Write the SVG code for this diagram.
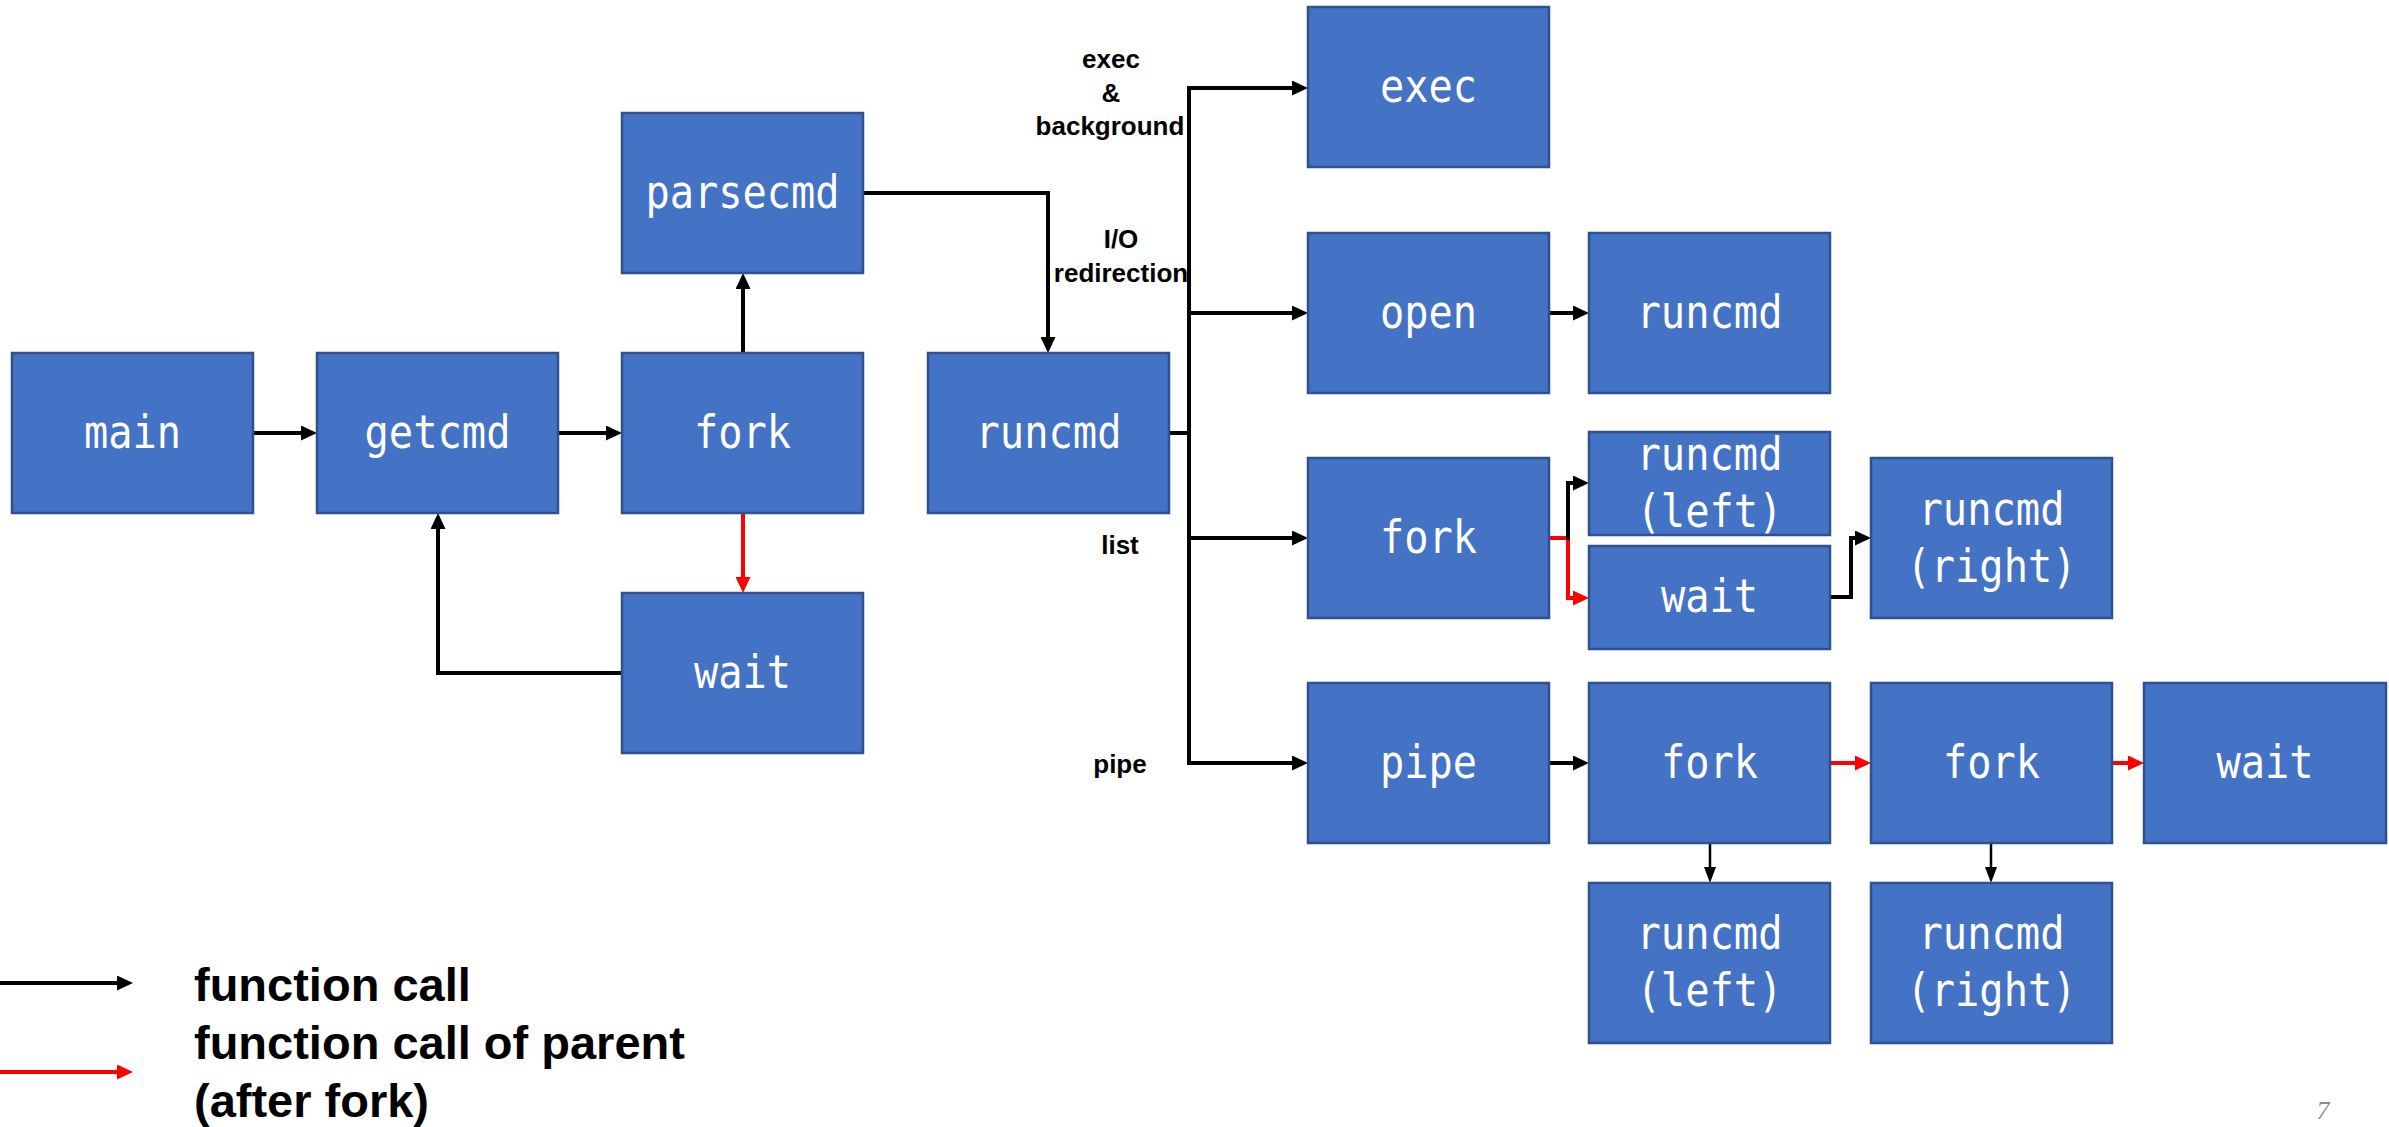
<svg xmlns="http://www.w3.org/2000/svg" width="2389" height="1127" viewBox="0 0 2389 1127">
  <style>
    .box { fill: #4472C4; stroke: #2F528F; stroke-width: 2.5; }
    .lbl { font-family: "DejaVu Sans Mono", monospace; font-size: 47px; fill: #ffffff; text-anchor: middle; }
    .edge { fill: none; stroke: #000000; stroke-width: 4; }
    .edge.thin { stroke-width: 2.5; }
    .edge.parent { stroke: #FF0000; }
    .tag { font-family: "Liberation Sans", Arial, sans-serif; font-weight: bold; font-size: 26px; fill: #000000; text-anchor: middle; }
    .legend { font-family: "Liberation Sans", Arial, sans-serif; font-weight: bold; font-size: 47px; fill: #000000; }
    .page { font-family: "Liberation Serif", serif; font-style: italic; font-size: 26px; fill: #8c8c8c; text-anchor: middle; }
  </style>
  <defs>
    <marker id="arrow" markerUnits="userSpaceOnUse" markerWidth="16" markerHeight="15" refX="10" refY="7.5" orient="auto">
      <path d="M0,0 L16,7.5 L0,15 z" fill="#000000"/>
    </marker>
    <marker id="arrow-red" markerUnits="userSpaceOnUse" markerWidth="16" markerHeight="15" refX="10" refY="7.5" orient="auto">
      <path d="M0,0 L16,7.5 L0,15 z" fill="#FF0000"/>
    </marker>
    <marker id="arrow-thin" markerUnits="userSpaceOnUse" markerWidth="16" markerHeight="12" refX="10" refY="6" orient="auto">
      <path d="M0,0 L16,6 L0,12 z" fill="#000000"/>
    </marker>
  </defs>

  <!-- connectors -->
  <g id="connectors">
    <path class="edge" d="M253,433 H311" marker-end="url(#arrow)"/>
    <path class="edge" d="M558,433 H616" marker-end="url(#arrow)"/>
    <path class="edge" d="M743,353 V279" marker-end="url(#arrow)"/>
    <path class="edge parent" d="M743,513 V587" marker-end="url(#arrow-red)"/>
    <path class="edge" d="M622,673 H438 V519" marker-end="url(#arrow)"/>
    <path class="edge" d="M863,193 H1048 V347" marker-end="url(#arrow)"/>
    <path class="edge" d="M1169,433 H1189"/>
    <path class="edge" d="M1189,88 V763"/>
    <path class="edge" d="M1187,88 H1302" marker-end="url(#arrow)"/>
    <path class="edge" d="M1189,313 H1302" marker-end="url(#arrow)"/>
    <path class="edge" d="M1189,538 H1302" marker-end="url(#arrow)"/>
    <path class="edge" d="M1187,763 H1302" marker-end="url(#arrow)"/>
    <path class="edge" d="M1549,313 H1583" marker-end="url(#arrow)"/>
    <path class="edge parent" d="M1549,538 H1568 V598 H1583" marker-end="url(#arrow-red)"/>
    <path class="edge" d="M1568,540 V483 H1583" marker-end="url(#arrow)"/>
    <path class="edge" d="M1830,597 H1851 V538 H1865" marker-end="url(#arrow)"/>
    <path class="edge" d="M1549,763 H1583" marker-end="url(#arrow)"/>
    <path class="edge parent" d="M1830,763 H1865" marker-end="url(#arrow-red)"/>
    <path class="edge parent" d="M2112,763 H2138" marker-end="url(#arrow-red)"/>
    <path class="edge thin" d="M1710,843 V877" marker-end="url(#arrow-thin)"/>
    <path class="edge thin" d="M1991,843 V877" marker-end="url(#arrow-thin)"/>
  </g>

  <!-- shell loop -->
  <g id="main"><rect class="box" x="12" y="353" width="241" height="160"/><text class="lbl" x="132.5" y="448" textLength="97" lengthAdjust="spacingAndGlyphs">main</text></g>
  <g id="getcmd"><rect class="box" x="317" y="353" width="241" height="160"/><text class="lbl" x="437.5" y="448" textLength="146" lengthAdjust="spacingAndGlyphs">getcmd</text></g>
  <g id="fork"><rect class="box" x="622" y="353" width="241" height="160"/><text class="lbl" x="742.5" y="448" textLength="97" lengthAdjust="spacingAndGlyphs">fork</text></g>
  <g id="parsecmd"><rect class="box" x="622" y="113" width="241" height="160"/><text class="lbl" x="742.5" y="208" textLength="194" lengthAdjust="spacingAndGlyphs">parsecmd</text></g>
  <g id="wait"><rect class="box" x="622" y="593" width="241" height="160"/><text class="lbl" x="742.5" y="688" textLength="97" lengthAdjust="spacingAndGlyphs">wait</text></g>
  <g id="runcmd"><rect class="box" x="928" y="353" width="241" height="160"/><text class="lbl" x="1048.5" y="448" textLength="146" lengthAdjust="spacingAndGlyphs">runcmd</text></g>

  <!-- runcmd branches -->
  <g id="exec"><rect class="box" x="1308" y="7" width="241" height="160"/><text class="lbl" x="1428.5" y="102" textLength="97" lengthAdjust="spacingAndGlyphs">exec</text></g>
  <g id="open"><rect class="box" x="1308" y="233" width="241" height="160"/><text class="lbl" x="1428.5" y="328" textLength="97" lengthAdjust="spacingAndGlyphs">open</text></g>
  <g id="runcmd-redir"><rect class="box" x="1589" y="233" width="241" height="160"/><text class="lbl" x="1709.5" y="328" textLength="146" lengthAdjust="spacingAndGlyphs">runcmd</text></g>

  <g id="fork-list"><rect class="box" x="1308" y="458" width="241" height="160"/><text class="lbl" x="1428.5" y="553" textLength="97" lengthAdjust="spacingAndGlyphs">fork</text></g>
  <g id="runcmd-list-left"><rect class="box" x="1589" y="432" width="241" height="103"/><text class="lbl" x="1709.5" y="470" textLength="146" lengthAdjust="spacingAndGlyphs">runcmd</text><text class="lbl" x="1709.5" y="527" textLength="146" lengthAdjust="spacingAndGlyphs">(left)</text></g>
  <g id="wait-list"><rect class="box" x="1589" y="546" width="241" height="103"/><text class="lbl" x="1709.5" y="612" textLength="97" lengthAdjust="spacingAndGlyphs">wait</text></g>
  <g id="runcmd-list-right"><rect class="box" x="1871" y="458" width="241" height="160"/><text class="lbl" x="1991.5" y="525" textLength="146" lengthAdjust="spacingAndGlyphs">runcmd</text><text class="lbl" x="1991.5" y="582" textLength="170" lengthAdjust="spacingAndGlyphs">(right)</text></g>

  <g id="pipe"><rect class="box" x="1308" y="683" width="241" height="160"/><text class="lbl" x="1428.5" y="778" textLength="97" lengthAdjust="spacingAndGlyphs">pipe</text></g>
  <g id="fork-pipe-left"><rect class="box" x="1589" y="683" width="241" height="160"/><text class="lbl" x="1709.5" y="778" textLength="97" lengthAdjust="spacingAndGlyphs">fork</text></g>
  <g id="fork-pipe-right"><rect class="box" x="1871" y="683" width="241" height="160"/><text class="lbl" x="1991.5" y="778" textLength="97" lengthAdjust="spacingAndGlyphs">fork</text></g>
  <g id="wait-pipe"><rect class="box" x="2144" y="683" width="242" height="160"/><text class="lbl" x="2265" y="778" textLength="97" lengthAdjust="spacingAndGlyphs">wait</text></g>
  <g id="runcmd-pipe-left"><rect class="box" x="1589" y="883" width="241" height="160"/><text class="lbl" x="1709.5" y="949" textLength="146" lengthAdjust="spacingAndGlyphs">runcmd</text><text class="lbl" x="1709.5" y="1006" textLength="146" lengthAdjust="spacingAndGlyphs">(left)</text></g>
  <g id="runcmd-pipe-right"><rect class="box" x="1871" y="883" width="241" height="160"/><text class="lbl" x="1991.5" y="949" textLength="146" lengthAdjust="spacingAndGlyphs">runcmd</text><text class="lbl" x="1991.5" y="1006" textLength="170" lengthAdjust="spacingAndGlyphs">(right)</text></g>

  <!-- branch labels -->
  <g id="branch-labels">
    <text class="tag" x="1111" y="68">exec</text>
    <text class="tag" x="1111" y="102">&amp;</text>
    <text class="tag" x="1110" y="135">background</text>
    <text class="tag" x="1121" y="248">I/O</text>
    <text class="tag" x="1121" y="282">redirection</text>
    <text class="tag" x="1120" y="554">list</text>
    <text class="tag" x="1120" y="773">pipe</text>
  </g>

  <!-- legend -->
  <g id="legend">
    <path class="edge" d="M0,983 H127" marker-end="url(#arrow)"/>
    <path class="edge parent" d="M0,1072 H127" marker-end="url(#arrow-red)"/>
    <text class="legend" x="194" y="1001">function call</text>
    <text class="legend" x="194" y="1059">function call of parent</text>
    <text class="legend" x="194" y="1117">(after fork)</text>
  </g>

  <text class="page" x="2323" y="1119">7</text>
</svg>
